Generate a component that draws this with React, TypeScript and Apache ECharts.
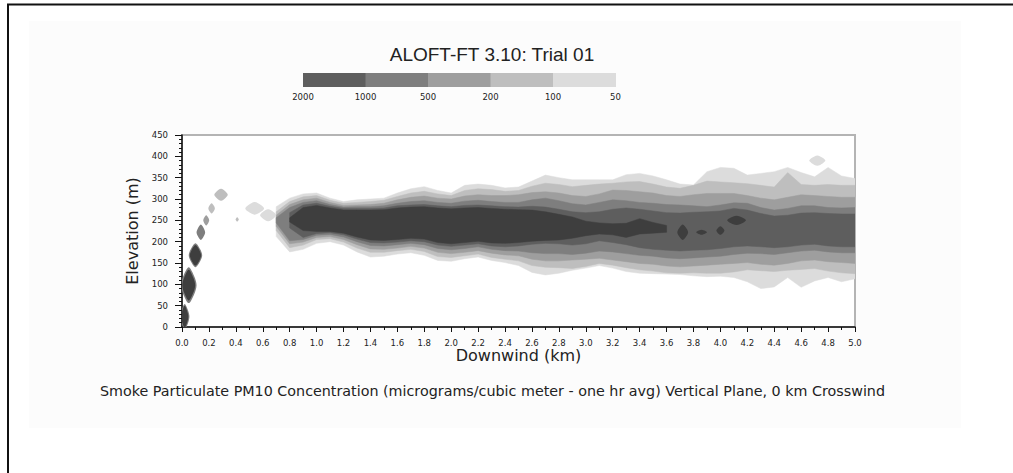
import React, { useEffect, useRef } from "react";
import * as echarts from "echarts";

// ---- Data ----
const legendLabels = ["2000", "1000", "500", "200", "100", "50"];
const legendColors = ["#5e5e5e", "#7e7e7e", "#9e9e9e", "#bebebe", "#dcdcdc"];
// contour fill colours, from >=50 up to >=2000
const levelColors = ["#dcdcdc", "#bebebe", "#9e9e9e", "#7e7e7e", "#5e5e5e", "#3e3e3e"];

const titleText = "ALOFT-FT 3.10: Trial 01";
const captionText =
  "Smoke Particulate PM10 Concentration (micrograms/cubic meter - one hr avg) Vertical Plane, 0 km Crosswind";

// downwind positions (km) of the plume columns
const plumeKm = [
  0.7, 0.8, 0.9, 1.0, 1.1, 1.2, 1.3, 1.4, 1.5, 1.6, 1.7, 1.8, 1.9, 2.0, 2.1,
  2.2, 2.3, 2.4, 2.5, 2.6, 2.7, 2.8, 2.9, 3.0, 3.1, 3.2, 3.3, 3.4, 3.5, 3.6,
  3.7, 3.8, 3.9, 4.0, 4.1, 4.2, 4.3, 4.4, 4.5, 4.6, 4.7, 4.8, 4.9, 5.0,
];

// upper / lower elevation (m) of each contour level
const top50 = [282, 302, 312, 314, 302, 294, 298, 300, 302, 314, 324, 329, 320, 314, 332, 335, 332, 326, 328, 342, 356, 350, 345, 345, 345, 345, 357, 360, 354, 345, 335, 333, 364, 374, 372, 356, 360, 364, 374, 362, 352, 374, 354, 348];
const bot50 = [212, 176, 182, 196, 200, 192, 176, 164, 166, 171, 174, 168, 156, 154, 160, 164, 156, 151, 144, 128, 122, 126, 133, 138, 144, 138, 130, 126, 125, 124, 123, 120, 118, 119, 116, 106, 90, 94, 116, 93, 108, 116, 106, 113];

const top100 = [270, 294, 305, 308, 297, 290, 292, 294, 297, 306, 314, 318, 312, 308, 320, 324, 322, 318, 320, 330, 337, 334, 329, 332, 335, 337, 340, 341, 335, 328, 325, 332, 342, 340, 338, 336, 332, 328, 362, 334, 332, 334, 332, 332];
const bot100 = [226, 186, 192, 205, 207, 199, 185, 175, 175, 179, 182, 177, 165, 163, 167, 171, 163, 159, 155, 144, 140, 139, 137, 142, 149, 145, 139, 134, 131, 127, 126, 127, 126, 126, 129, 134, 132, 130, 133, 135, 137, 131, 127, 125];

const top200 = [262, 287, 298, 302, 292, 285, 286, 287, 290, 298, 304, 307, 302, 300, 307, 310, 308, 308, 310, 315, 317, 314, 308, 306, 312, 321, 320, 317, 314, 308, 306, 310, 313, 313, 313, 308, 302, 298, 304, 310, 308, 306, 304, 304];
const bot200 = [236, 195, 199, 210, 212, 205, 193, 183, 182, 185, 189, 185, 175, 172, 175, 179, 173, 169, 167, 159, 155, 155, 157, 159, 161, 157, 153, 149, 147, 143, 141, 143, 145, 147, 149, 151, 147, 145, 149, 155, 157, 153, 151, 149];

const top500 = [256, 280, 292, 296, 287, 281, 282, 282, 284, 290, 294, 296, 292, 290, 295, 297, 294, 292, 292, 298, 302, 296, 289, 286, 292, 298, 296, 292, 290, 287, 286, 284, 282, 286, 291, 290, 280, 274, 278, 284, 284, 280, 279, 280];
const bot500 = [244, 202, 205, 215, 217, 211, 200, 191, 190, 193, 196, 193, 184, 181, 184, 188, 182, 179, 178, 174, 172, 172, 170, 173, 178, 176, 172, 168, 166, 162, 160, 162, 164, 166, 170, 173, 172, 170, 174, 178, 180, 176, 174, 174];

const top1000 = [null, 268, 286, 290, 283, 278, 278, 278, 279, 284, 286, 287, 284, 282, 285, 286, 284, 282, 281, 283, 281, 276, 270, 268, 270, 276, 279, 276, 272, 268, 267, 269, 270, 272, 278, 274, 266, 260, 262, 267, 268, 266, 265, 265];
const bot1000 = [null, 232, 210, 219, 221, 216, 206, 198, 197, 199, 202, 200, 192, 189, 192, 195, 190, 188, 190, 194, 196, 195, 192, 195, 202, 198, 193, 186, 182, 180, 178, 180, 181, 184, 188, 190, 188, 186, 188, 192, 194, 190, 188, 188];

const top2000 = [null, 256, 280, 285, 279, 274, 274, 274, 275, 279, 281, 282, 279, 277, 279, 280, 278, 276, 275, 274, 270, 264, 258, 248, 244, 242, 243, 254, 245, 238, null, null, null, null, null, null, null, null, null, null, null, null, null, null];
const bot2000 = [null, 246, 226, 224, 224, 220, 211, 204, 203, 205, 208, 206, 198, 195, 198, 201, 197, 196, 198, 201, 203, 204, 208, 214, 218, 216, 210, 218, 220, 222, null, null, null, null, null, null, null, null, null, null, null, null, null, null];

// isolated puffs: [km, elevation m, half-width km, half-height m, level index]
const puffs = [
  [0.02, 24, 0.035, 30, 3],
  [0.02, 24, 0.027, 26, 5],
  [0.05, 98, 0.058, 42, 3],
  [0.05, 98, 0.048, 36, 5],
  [0.1, 168, 0.05, 28, 3],
  [0.1, 168, 0.042, 24, 5],
  [0.14, 222, 0.032, 18, 3],
  [0.18, 250, 0.022, 12, 2],
  [0.22, 278, 0.024, 12, 1],
  [0.29, 310, 0.05, 14, 1],
  [0.41, 252, 0.012, 5, 1],
  [0.54, 278, 0.07, 15, 0],
  [0.64, 262, 0.06, 14, 0],
  [3.72, 222, 0.04, 18, 5],
  [3.86, 222, 0.04, 6, 5],
  [4.0, 226, 0.03, 10, 5],
  [4.12, 250, 0.07, 11, 5],
  [4.72, 390, 0.06, 12, 0],
];

const xTicks = { min: 0, max: 5, interval: 0.2 };
const yTicks = { min: 0, max: 450, interval: 50 };

const bands = [
  { top: top50, bot: bot50, level: 0 },
  { top: top100, bot: bot100, level: 1 },
  { top: top200, bot: bot200, level: 2 },
  { top: top500, bot: bot500, level: 3 },
  { top: top1000, bot: bot1000, level: 4 },
  { top: top2000, bot: bot2000, level: 5 },
];

const FONT = '"DejaVu Sans", Verdana, sans-serif';

export default function App() {
  const ref = useRef<HTMLDivElement>(null);
  useEffect(() => {
    if (!ref.current) return;
    document.documentElement.style.overflow = "hidden";
    const chart = echarts.init(ref.current, undefined, { renderer: "svg" });

    const bandSeries = bands.map((b) => ({
      type: "custom",
      coordinateSystem: "cartesian2d",
      clip: true,
      silent: true,
      data: [[0, 0]],
      renderItem: (_params: any, api: any) => {
        const children: any[] = [];
        let run: number[] = [];
        const flush = () => {
          if (run.length > 1) {
            const up = run.map((i) => api.coord([plumeKm[i], b.top[i] as number]));
            const dn = run
              .slice()
              .reverse()
              .map((i) => api.coord([plumeKm[i], b.bot[i] as number]));
            children.push({
              type: "polygon",
              shape: { points: up.concat(dn) },
              style: { fill: levelColors[b.level], stroke: levelColors[b.level], lineWidth: 0.5 },
            });
          }
          run = [];
        };
        for (let i = 0; i < plumeKm.length; i++) {
          if (b.top[i] == null || b.bot[i] == null) flush();
          else run.push(i);
        }
        flush();
        return { type: "group", children };
      },
    }));

    const puffSeries = {
      type: "custom",
      coordinateSystem: "cartesian2d",
      clip: true,
      silent: true,
      data: puffs,
      renderItem: (_params: any, api: any) => {
        const c = api.coord([api.value(0), api.value(1)]);
        const s = api.size([api.value(2), api.value(3)]);
        const rx = s[0];
        const ry = s[1];
        const pts: number[][] = [
          [c[0], c[1] - ry],
          [c[0] + rx * 0.7, c[1] - ry * 0.5],
          [c[0] + rx, c[1]],
          [c[0] + rx * 0.7, c[1] + ry * 0.5],
          [c[0], c[1] + ry],
          [c[0] - rx * 0.7, c[1] + ry * 0.5],
          [c[0] - rx, c[1]],
          [c[0] - rx * 0.7, c[1] - ry * 0.5],
        ];
        return {
          type: "polygon",
          shape: { points: pts, smooth: 0.3 },
          style: { fill: levelColors[api.value(4)] },
        };
      },
    };

    const legendX0 = 303;
    const legendW = 62.5;
    const graphics: any[] = [
      { type: "rect", shape: { x: 29, y: 21, width: 932, height: 407 }, style: { fill: "#fcfcfc" }, z: -10 },
      { type: "line", shape: { x1: 7, y1: 4.5, x2: 1013, y2: 4.5 }, style: { stroke: "#111", lineWidth: 2 } },
      { type: "line", shape: { x1: 8, y1: 4, x2: 8, y2: 473 }, style: { stroke: "#111", lineWidth: 2 } },
      {
        type: "text",
        x: 492,
        y: 54,
        style: { text: titleText, font: '19px "Liberation Sans", Arial, sans-serif', fill: "#222", textAlign: "center", textVerticalAlign: "middle" },
      },
      {
        type: "text",
        x: 100,
        y: 391,
        style: { text: captionText, font: "14.3px " + FONT, fill: "#222", textAlign: "left", textVerticalAlign: "middle" },
      },
    ];
    legendColors.forEach((col, i) => {
      graphics.push({
        type: "rect",
        shape: { x: legendX0 + i * legendW, y: 73, width: legendW + 0.5, height: 14 },
        style: { fill: col },
      });
    });
    legendLabels.forEach((lab, i) => {
      graphics.push({
        type: "text",
        x: legendX0 + i * legendW,
        y: 97,
        style: { text: lab, font: "8.5px " + FONT, fill: "#222", textAlign: "center", textVerticalAlign: "middle" },
      });
    });

    chart.setOption({
      animation: false,
      backgroundColor: "#ffffff",
      grid: {
        left: 182,
        top: 135,
        width: 673,
        height: 192,
        show: true,
        backgroundColor: "#ffffff",
        borderColor: "#b4b4b4",
        borderWidth: 2,
      },
      xAxis: {
        type: "value",
        min: xTicks.min,
        max: xTicks.max,
        interval: xTicks.interval,
        name: "Downwind (km)",
        nameLocation: "middle",
        nameGap: 18,
        nameTextStyle: { fontFamily: FONT, fontSize: 16, color: "#222" },
        axisLine: { show: true, lineStyle: { color: "#111", width: 1.5 } },
        axisTick: { show: true, length: 5, lineStyle: { color: "#111" } },
        minorTick: { show: true, splitNumber: 2, length: 3, lineStyle: { color: "#111" } },
        splitLine: { show: false },
        axisLabel: {
          margin: 11,
          fontFamily: FONT,
          fontSize: 8.5,
          color: "#222",
          formatter: (v: number) => v.toFixed(1),
        },
      },
      yAxis: {
        type: "value",
        min: yTicks.min,
        max: yTicks.max,
        interval: yTicks.interval,
        name: "Elevation (m)",
        nameLocation: "middle",
        nameGap: 40,
        nameTextStyle: { fontFamily: FONT, fontSize: 16, color: "#222" },
        axisLine: { show: true, lineStyle: { color: "#111", width: 1.5 } },
        axisTick: { show: true, length: 7, lineStyle: { color: "#111" } },
        minorTick: { show: true, splitNumber: 5, length: 3, lineStyle: { color: "#111" } },
        splitLine: { show: false },
        axisLabel: { margin: 14, fontFamily: FONT, fontSize: 8.5, color: "#222" },
      },
      graphic: graphics,
      series: [...bandSeries, puffSeries],
    });
    return () => chart.dispose();
  }, []);
  return (
    <div
      ref={ref}
      style={{ position: "absolute", left: 0, top: 0, width: 1013, height: 473 }}
    />
  );
}
